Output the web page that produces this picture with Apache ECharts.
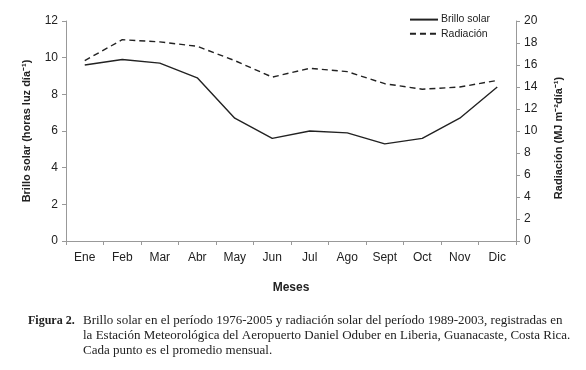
<!DOCTYPE html>
<html>
<head>
<meta charset="utf-8">
<script src="https://cdn.jsdelivr.net/npm/echarts@6/dist/echarts.min.js"></script>
<style>
  html, body { margin: 0; padding: 0; background: #fff; }
  #chart { width: 586px; height: 370px; }
</style>
</head>
<body>
<div id="chart"></div>
<script>
const meses = ['Ene', 'Feb', 'Mar', 'Abr', 'May', 'Jun', 'Jul', 'Ago', 'Sept', 'Oct', 'Nov', 'Dic'];
// horas luz por dia (eje izquierdo)
const brilloSolar = [9.6, 9.9, 9.7, 8.9, 6.7, 5.6, 6.0, 5.9, 5.3, 5.6, 6.7, 8.4];
// MJ m-2 dia-1 (eje derecho)
const radiacion = [16.4, 18.3, 18.1, 17.7, 16.4, 14.9, 15.7, 15.4, 14.3, 13.8, 14.0, 14.6];

const captionLines = [
  'Brillo solar en el período 1976-2005 y radiación solar del período 1989-2003, registradas en',
  'la Estación Meteorológica del Aeropuerto Daniel Oduber en Liberia, Guanacaste, Costa Rica.',
  'Cada punto es el promedio mensual.'
];

const sans = 'Liberation Sans, Arial, sans-serif';
const serif = 'Liberation Serif, Times New Roman, serif';
const ink = '#222';
const axisGray = '#999';

const myChart = echarts.init(document.getElementById('chart'));

const option = {
  animation: false,
  backgroundColor: '#fff',
  textStyle: { fontFamily: sans },
  grid: { left: 66, right: 70, top: 21, bottom: 129 },
  legend: {
    orient: 'vertical',
    right: 91,
    top: 9,
    itemWidth: 28,
    itemHeight: 14,
    itemGap: 3,
    itemStyle: { opacity: 0 },
    textStyle: { fontFamily: sans, fontSize: 10.5, color: ink, padding: [0, 0, 0, -2] },
    data: ['Brillo solar', 'Radiación']
  },
  xAxis: {
    type: 'category',
    data: meses,
    boundaryGap: true,
    name: 'Meses',
    nameLocation: 'middle',
    nameGap: 41,
    nameTextStyle: { fontFamily: sans, fontSize: 12, fontWeight: 'bold', color: ink },
    axisLine: { lineStyle: { color: axisGray, width: 1 } },
    axisTick: { show: true, alignWithLabel: false, length: 4, lineStyle: { color: axisGray } },
    axisLabel: { fontFamily: sans, fontSize: 12, color: ink, margin: 11 },
    splitLine: { show: false }
  },
  yAxis: [
    {
      type: 'value',
      min: 0,
      max: 12,
      interval: 2,
      position: 'left',
      name: 'Brillo solar (horas luz día⁻¹)',
      nameLocation: 'middle',
      nameGap: 34,
      nameTextStyle: { fontFamily: sans, fontSize: 11, fontWeight: 'bold', color: ink },
      axisLine: { show: true, lineStyle: { color: axisGray, width: 1 } },
      axisTick: { show: true, length: 4, lineStyle: { color: axisGray } },
      axisLabel: { fontFamily: sans, fontSize: 12, color: ink, margin: 8 },
      splitLine: { show: false }
    },
    {
      type: 'value',
      min: 0,
      max: 20,
      interval: 2,
      position: 'right',
      name: 'Radiación (MJ m⁻²día⁻¹)',
      nameLocation: 'middle',
      nameGap: 37,
      nameRotate: 90,
      nameTextStyle: { fontFamily: sans, fontSize: 11, fontWeight: 'bold', color: ink, padding: [0, 14, 0, 0] },
      axisLine: { show: true, lineStyle: { color: axisGray, width: 1 } },
      axisTick: { show: true, length: 4, lineStyle: { color: axisGray } },
      axisLabel: { fontFamily: sans, fontSize: 12, color: ink, margin: 8 },
      splitLine: { show: false }
    }
  ],
  series: [
    {
      name: 'Brillo solar',
      type: 'line',
      yAxisIndex: 0,
      data: brilloSolar,
      symbol: 'none',
      lineStyle: { color: ink, width: 1.4, type: 'solid' },
      itemStyle: { color: ink }
    },
    {
      name: 'Radiación',
      type: 'line',
      yAxisIndex: 1,
      data: radiacion,
      symbol: 'none',
      lineStyle: { color: ink, width: 1.4, type: [6, 4] },
      itemStyle: { color: ink }
    }
  ],
  graphic: [
    {
      type: 'text',
      left: 28,
      top: 315,
      style: { text: 'Figura 2.', font: 'bold 12px ' + serif, fill: ink }
    }
  ].concat(captionLines.map((line, i) => ({
    type: 'text',
    left: 83,
    top: 314 + i * 15,
    style: { text: line, font: '13px ' + serif, fill: ink }
  })))
};

myChart.setOption(option);
</script>
</body>
</html>
